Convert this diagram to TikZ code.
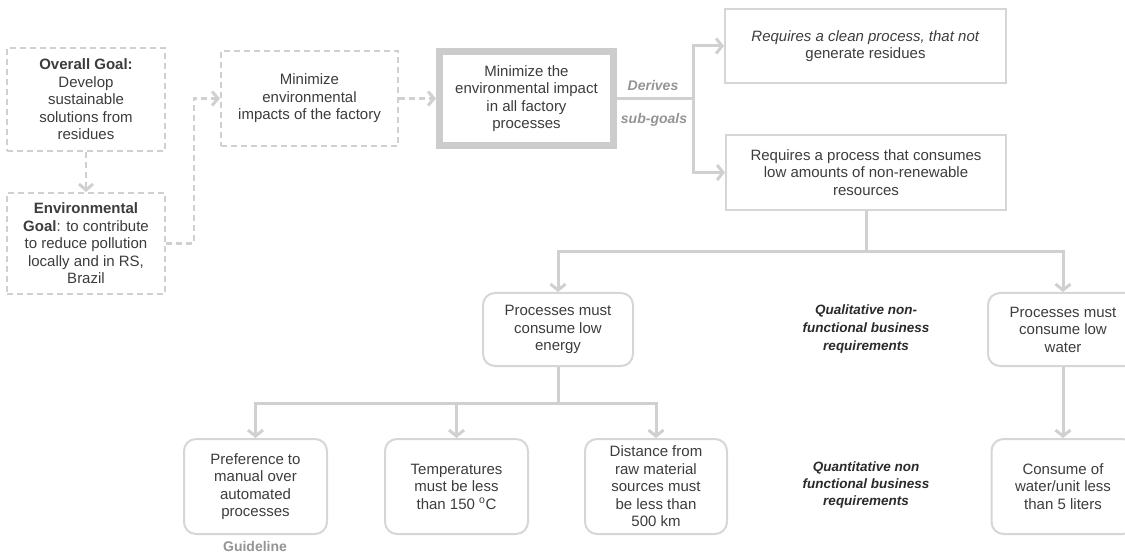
\documentclass[tikz,border=0pt]{standalone}
\usepackage{fontspec}
\setmainfont{Liberation Sans}
\usetikzlibrary{arrows.meta}
\definecolor{txt}{HTML}{3C3C3C}
\definecolor{ln}{HTML}{D0D0D0}
\definecolor{bx}{HTML}{D6D6D6}
\definecolor{thk}{HTML}{CCCCCC}
\definecolor{lbl}{HTML}{949494}
\definecolor{dark}{HTML}{2A2A2A}
\begin{document}
\begin{tikzpicture}[x=1pt,y=-1pt,
  every node/.style={font=\fontsize{15}{17.5}\selectfont, text=txt, align=center, inner sep=0pt},
  dbox/.style={draw=ln, line width=2pt, dash pattern=on 6pt off 4pt},
  sbox/.style={draw=bx, line width=2pt},
  rbox/.style={draw=bx, line width=2pt, rounded corners=12pt},
  thbox/.style={draw=thk, line width=7pt},
  plain/.style={draw=ln, line width=3pt},
  conn/.style={draw=ln, line width=3pt, -{Straight Barb[length=6pt,width=15pt,line width=3pt]}},
  dconn/.style={draw=ln, line width=2.2pt, dash pattern=on 6pt off 4pt, -{Straight Barb[length=6pt,width=14pt,line width=3pt]}},
  lbl/.style={font=\fontsize{14}{16}\selectfont\bfseries\itshape, text=lbl},
  req/.style={font=\fontsize{13.5}{18}\selectfont\bfseries\itshape, text=dark}
]
\useasboundingbox (0,0) rectangle (1125,556);
\clip (0,0) rectangle (1125,556);

% top row
\node[dbox, minimum width=158pt, minimum height=103pt] (og) at (86,99.5)
  {\textbf{Overall Goal:}\\Develop\\sustainable\\solutions from\\residues};
\node[dbox, minimum width=158pt, minimum height=101pt] (eg) at (86,243.5)
  {\textbf{Environmental}\\\textbf{Goal}: to contribute\\to reduce pollution\\locally and in RS,\\Brazil};
\node[dbox, minimum width=177pt, minimum height=95pt] (mi) at (309.5,98.5)
  {Minimize\\environmental\\impacts of the factory};
\node[thbox, minimum width=174pt, minimum height=94pt] (th) at (526.5,98.5)
  {Minimize the\\environmental impact\\in all factory\\processes};
\node[sbox, minimum width=281pt, minimum height=74pt] (r1) at (865.5,46)
  {\textit{Requires a clean process, that not}\\generate residues};
\node[sbox, minimum width=280pt, minimum height=75pt] (r2) at (866,172.5)
  {Requires a process that consumes\\low amounts of non-renewable\\resources};

% middle row
\node[rbox, minimum width=150pt, minimum height=73pt] (en) at (558,329.5)
  {Processes must\\consume low\\energy};
\node[rbox, minimum width=150pt, minimum height=73pt] (wa) at (1063,329.5)
  {Processes must\\consume low\\water};

% bottom row
\node[rbox, minimum width=143pt, minimum height=95pt] (pr) at (255.5,486.5)
  {Preference to\\manual over\\automated\\processes};
\node[rbox, minimum width=143pt, minimum height=95pt] (te) at (456.5,486.5)
  {Temperatures\\must be less\\than 150 \textsuperscript{o}C};
\node[rbox, minimum width=142pt, minimum height=95pt] (di) at (656,486.5)
  {Distance from\\raw material\\sources must\\be less than\\500 km};
\node[rbox, minimum width=143pt, minimum height=95pt] (co) at (1063,486.5)
  {Consume of\\water/unit less\\than 5 liters};

% labels
\node[lbl] (d1) at (653,85) {Derives};
\node[lbl] (d2) at (654,120) {sub-goals};
\node[req] (ql) at (866,329) {Qualitative non-\\functional business\\requirements};
\node[req, font=\fontsize{13.5}{17}\selectfont\bfseries\itshape] (qn) at (866,485) {Quantitative non\\functional business\\requirements};
\node[font=\fontsize{14}{16}\selectfont\bfseries, text=lbl] (gl) at (255,546.5) {Guideline};

% connectors
\draw[dconn] (og.south) -- (eg.north);
\draw[dconn] (eg.east) -- ++(28,0) |- (mi.west);
\draw[dconn] (mi.east) -- (th.west);
\draw[plain] (th.east) -- (693,98.5) coordinate (br);
\draw[conn] (br) |- (r1.west);
\draw[conn] (br) |- (r2.west);
\draw[plain] (r2.south) -- (866,252) coordinate (b2);
\draw[conn] (b2) -| (en.north);
\draw[conn] (b2) -| (wa.north);
\draw[plain] (en.south) -- (558,403) coordinate (b3);
\draw[conn] (b3) -| (pr.north);
\draw[conn] (b3) -| (te.north);
\draw[conn] (b3) -| (di.north);
\draw[conn] (wa.south) -- (co.north);
\end{tikzpicture}
\end{document}
